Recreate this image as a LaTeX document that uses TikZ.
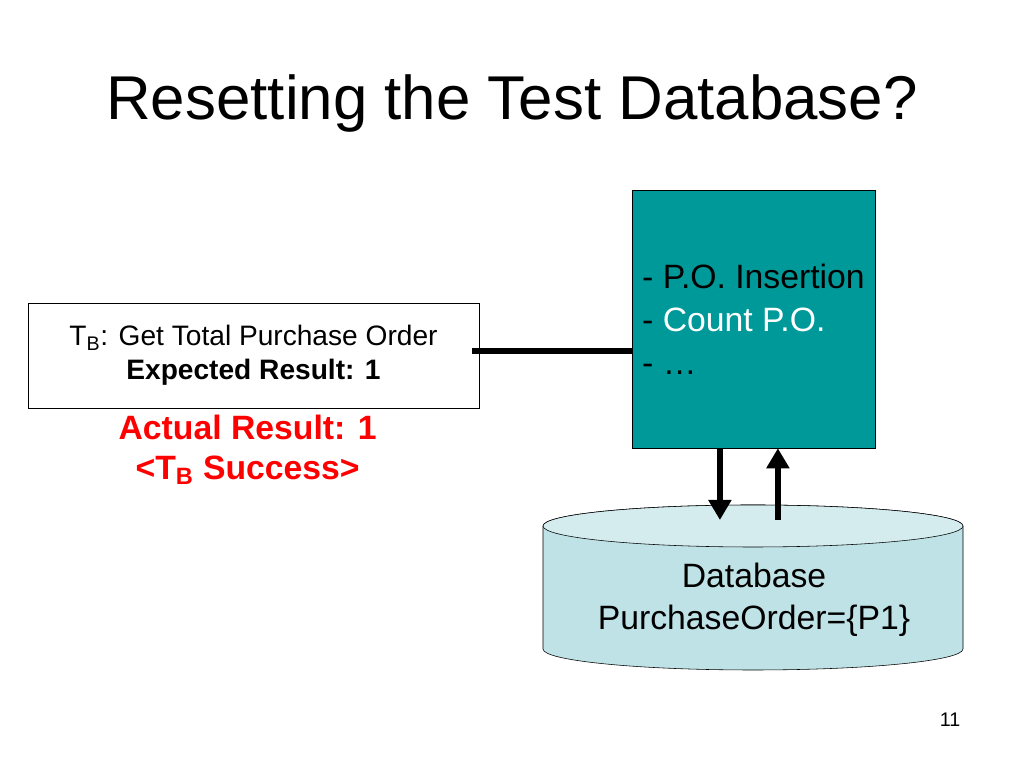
\documentclass[tikz,border=0pt]{standalone}
\usepackage{fontspec}
\setmainfont{Liberation Sans}
\usetikzlibrary{arrows.meta,positioning}
\definecolor{opsteal}{RGB}{0,153,153}
\definecolor{dbside}{RGB}{190,226,230}
\definecolor{dbcap}{RGB}{212,236,238}
\definecolor{resred}{RGB}{255,0,0}
\begin{document}
\begin{tikzpicture}[>={Triangle[width=0.55cm,length=0.5cm]},
  testbox/.style={draw, thin, fill=white, minimum width=11.275cm, minimum height=2.625cm, align=center, font=\fontsize{20}{24}\selectfont},
  opsbox/.style={draw, thin, fill=opsteal, text=black, minimum width=6.075cm, minimum height=6.45cm, align=left, font=\fontsize{24}{30.5}\selectfont},
  result/.style={text=resred, align=center, font=\bfseries\fontsize{24}{28.5}\selectfont},
  dbtext/.style={align=center, font=\fontsize{24}{30}\selectfont},
  link/.style={line width=0.15cm},
  flow/.style={->, line width=0.15cm},
  dbshape/.style={draw, thin}]
\useasboundingbox[fill=white] (0,0) rectangle (25.6,19.2);
\node[anchor=base, font=\fontsize{44}{53}\selectfont] (title) at (12.8,16.2) {Resetting the Test Database?};
% test case and its result
\node[testbox] (tb) at (6.3375,10.3125) {T\textsubscript{B}: Get Total Purchase Order\\ \textbf{Expected Result: 1}};
\node[result] (res) at (6.19,7.95) {Actual Result: 1\\ <T\textsubscript{B} Success>};
% operations under test
\node[opsbox] (ops) at (18.8375,11.225) {- P.O. Insertion\\ - \textcolor{white}{Count P.O.}\\ - \ldots};
\draw[link] ([xshift=-0.18cm,yshift=0.11cm]tb.east) -- ([yshift=0.11cm]tb.east -| ops.west);
% database cylinder
\draw[dbshape, fill=dbside] (13.575,6.05) -- (13.575,2.975)
  arc[start angle=180, end angle=360, x radius=5.25cm, y radius=0.525cm]
  -- (24.075,6.05) arc[start angle=0, end angle=180, x radius=5.25cm, y radius=0.525cm] -- cycle;
\draw[dbshape, fill=dbcap] (18.825,6.05) ellipse[x radius=5.25cm, y radius=0.525cm];
\node[dbtext] (db) at (18.85,4.2) {Database\\ PurchaseOrder=\{P1\}};
\coordinate (dbtop) at (18.825,6.2);
\draw[flow] ([xshift=-0.84cm]ops.south) -- ([xshift=-0.84cm]ops.south |- dbtop);
\draw[flow] ([xshift=0.61cm]ops.south |- dbtop) -- ([xshift=0.61cm]ops.south);
\node[anchor=base, font=\fontsize{14}{17}\selectfont] (page) at (23.75,1.025) {11};
\end{tikzpicture}
\end{document}
